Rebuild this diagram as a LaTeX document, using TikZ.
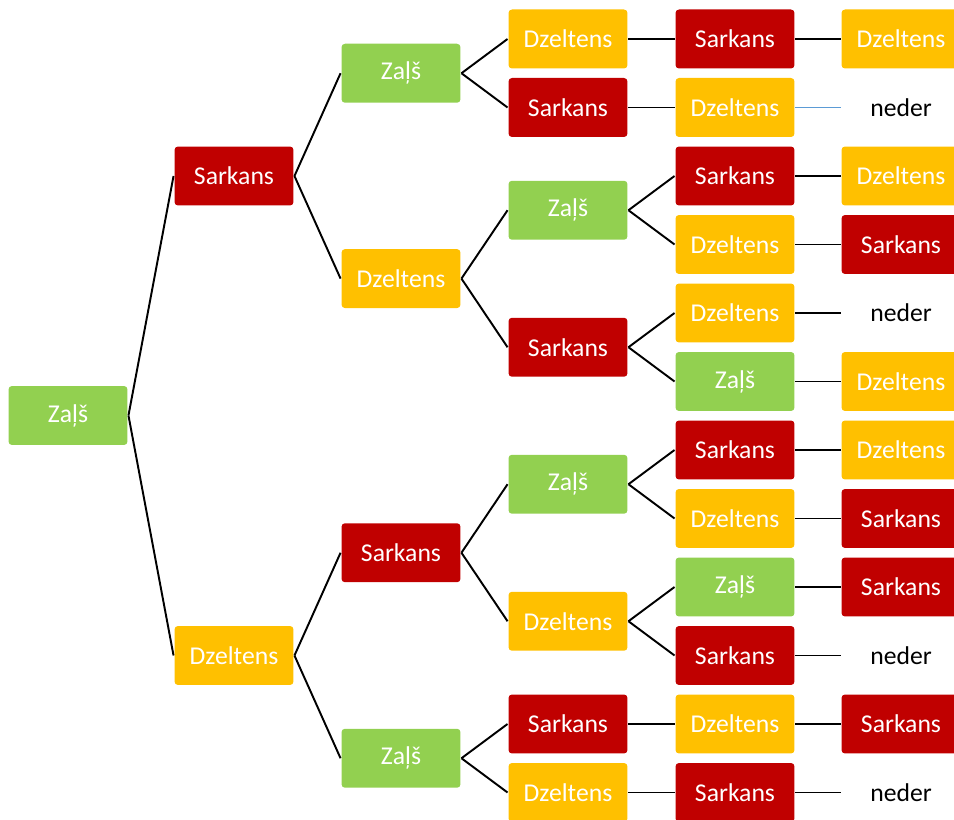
\documentclass[tikz,border=0pt]{standalone}
\usepackage{fontspec}
\setmainfont{Carlito}
\usepackage{tikz}

\definecolor{zalsc}{RGB}{146,208,80}
\definecolor{sarkc}{RGB}{192,0,0}
\definecolor{dzelc}{RGB}{255,192,0}
\definecolor{linec}{RGB}{91,155,213}

\begin{document}
\begin{tikzpicture}[x=0.02cm, y=-0.02cm, line width=1.1pt,
    every node/.style={minimum width=2.38cm, minimum height=1.18cm,
      rounded corners=0.07cm, inner sep=0pt,
      font=\fontsize{14.6}{17}\selectfont, text=white},
    zals/.style={fill=zalsc},
    sark/.style={fill=sarkc},
    dzel/.style={fill=dzelc},
    nederbox/.style={text=black}
    ]
    \useasboundingbox (0,0) rectangle (954,820);
    \clip (0,0) rectangle (954,820);

    % columns 68, 234, 401, 568, 735, 901
    \node[zals] (r) at (68,415.5) {Zaļš};

    \node[sark] (a) at (234,176) {Sarkans};
    \node[dzel] (b) at (234,655.5) {Dzeltens};

    \node[zals] (aa) at (401,73.25) {Zaļš};
    \node[dzel] (ab) at (401,278.6) {Dzeltens};
    \node[sark] (ba) at (401,552.75) {Sarkans};
    \node[zals] (bb) at (401,758.25) {Zaļš};

    \node[dzel] (aaa) at (568,39) {Dzeltens};
    \node[sark] (aab) at (568,107.5) {Sarkans};
    \node[zals] (aba) at (568,210.25) {Zaļš};
    \node[sark] (abb) at (568,347.25) {Sarkans};
    \node[zals] (baa) at (568,484.25) {Zaļš};
    \node[dzel] (bab) at (568,621.25) {Dzeltens};
    \node[sark] (bba) at (568,724) {Sarkans};
    \node[dzel] (bbb) at (568,792.5) {Dzeltens};

    \node[sark] (aaa1) at (735,39) {Sarkans};
    \node[dzel] (aab1) at (735,107.5) {Dzeltens};
    \node[sark] (abaa) at (735,176) {Sarkans};
    \node[dzel] (abab) at (735,244.5) {Dzeltens};
    \node[dzel] (abba) at (735,313) {Dzeltens};
    \node[zals] (abbb) at (735,381.5) {Zaļš};
    \node[sark] (baaa) at (735,450) {Sarkans};
    \node[dzel] (baab) at (735,518.5) {Dzeltens};
    \node[zals] (baba) at (735,587) {Zaļš};
    \node[sark] (babb) at (735,655.5) {Sarkans};
    \node[dzel] (bba1) at (735,724) {Dzeltens};
    \node[sark] (bbb1) at (735,792.5) {Sarkans};

    \node[dzel] (aaa2) at (901,39) {Dzeltens};
    \node[nederbox] (aab2) at (901,107.5) {neder};
    \node[dzel] (abaa1) at (901,176) {Dzeltens};
    \node[sark] (abab1) at (901,244.5) {Sarkans};
    \node[nederbox] (abba1) at (901,313) {neder};
    \node[dzel] (abbb1) at (901,381.5) {Dzeltens};
    \node[dzel] (baaa1) at (901,450) {Dzeltens};
    \node[sark] (baab1) at (901,518.5) {Sarkans};
    \node[sark] (baba1) at (901,587) {Sarkans};
    \node[nederbox] (babb1) at (901,655.5) {neder};
    \node[sark] (bba2) at (901,724) {Sarkans};
    \node[nederbox] (bbb2) at (901,792.5) {neder};

    \draw (r.east) -- (a.west);
    \draw (r.east) -- (b.west);
    \draw (a.east) -- (aa.west);
    \draw (a.east) -- (ab.west);
    \draw (b.east) -- (ba.west);
    \draw (b.east) -- (bb.west);
    \draw (aa.east) -- (aaa.west);
    \draw (aa.east) -- (aab.west);
    \draw (ab.east) -- (aba.west);
    \draw (ab.east) -- (abb.west);
    \draw (ba.east) -- (baa.west);
    \draw (ba.east) -- (bab.west);
    \draw (bb.east) -- (bba.west);
    \draw (bb.east) -- (bbb.west);
    \draw (aaa.east) -- (aaa1.west);
    \draw (aab.east) -- (aab1.west);
    \draw (aba.east) -- (abaa.west);
    \draw (aba.east) -- (abab.west);
    \draw (abb.east) -- (abba.west);
    \draw (abb.east) -- (abbb.west);
    \draw (baa.east) -- (baaa.west);
    \draw (baa.east) -- (baab.west);
    \draw (bab.east) -- (baba.west);
    \draw (bab.east) -- (babb.west);
    \draw (bba.east) -- (bba1.west);
    \draw (bbb.east) -- (bbb1.west);
    \draw (aaa1.east) -- (aaa2.west);
    \draw[linec] (aab1.east) -- (aab2.west);
    \draw (abaa.east) -- (abaa1.west);
    \draw (abab.east) -- (abab1.west);
    \draw (abba.east) -- (abba1.west);
    \draw (abbb.east) -- (abbb1.west);
    \draw (baaa.east) -- (baaa1.west);
    \draw (baab.east) -- (baab1.west);
    \draw (baba.east) -- (baba1.west);
    \draw (babb.east) -- (babb1.west);
    \draw (bba1.east) -- (bba2.west);
    \draw (bbb1.east) -- (bbb2.west);
  \end{tikzpicture}
\end{document}
